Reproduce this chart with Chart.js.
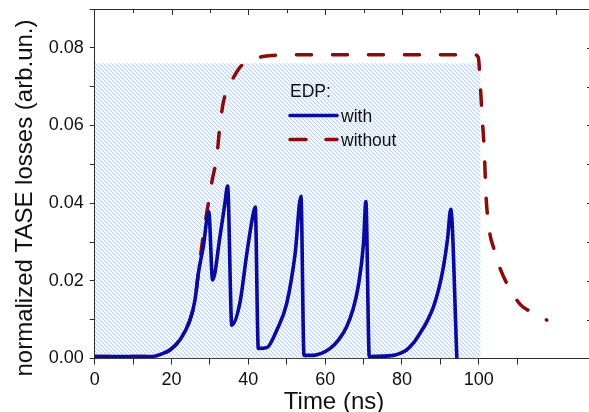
<!DOCTYPE html>
<html>
<head>
<meta charset="utf-8">
<script src="https://cdn.jsdelivr.net/npm/chart.js@4.4.1/dist/chart.umd.min.js"></script>
<style>
  html, body { margin: 0; padding: 0; background: #fff; }
  #wrap { width: 589px; height: 412px; position: relative; }
</style>
</head>
<body>
<div id="wrap"><canvas id="chart"></canvas></div>
<script>
// time (ns) and normalized TASE losses
const withTime = [0, 15, 17.5, 19.6, 22.2, 24.8, 26.1, 27, 28.3, 29.7, 30.7, 32.6, 33.9, 34.6, 35.7,
  37.8, 39.6, 41.3, 41.8, 42.6, 44.8, 47.4, 50, 52.2, 53.7, 54.5, 57, 59, 61.3, 63.5, 65.6, 67.2,
  68.6, 70, 70.6, 71.5, 77.8, 79.5, 81.2, 83, 84.7, 86.5, 88.2, 89.6, 90.8, 91.9, 92.7, 94.3];
const withLoss = [0.0005, 0.0005, 0.0012, 0.0022, 0.0048, 0.0099, 0.015, 0.022, 0.029, 0.0378, 0.0202, 0.0313, 0.040, 0.0444, 0.0086,
  0.0143, 0.027, 0.0374, 0.039, 0.0026, 0.0028, 0.0073, 0.0142, 0.0271, 0.0418, 0.0008, 0.0008, 0.0013, 0.0026, 0.0048, 0.0082, 0.0125,
  0.0185, 0.0297, 0.0404, 0.0005, 0.0008, 0.0013, 0.0022, 0.004, 0.0065, 0.0095, 0.0133, 0.018, 0.0236, 0.031, 0.0384, 0.0];

const withoutTime = [0, 15, 17.5, 19.6, 22.2, 24.8, 26.1, 27, 28.3, 29.6, 30.6, 31.8, 32.5, 33.5, 35.2,
  36.5, 38, 40, 42.5, 46, 50, 99, 99.9, 100.3, 100.9, 101.5, 101.8, 102.3, 102.9, 104.2, 105.7, 108,
  110.9, 113.5, 116.4, 117.7];
const withoutLoss = [0.0005, 0.0005, 0.0012, 0.0022, 0.0048, 0.0099, 0.015, 0.022, 0.032, 0.040, 0.046, 0.052, 0.059, 0.066, 0.0705,
  0.073, 0.0752, 0.0765, 0.0775, 0.078, 0.0782, 0.0782, 0.0775, 0.072, 0.062, 0.052, 0.0435, 0.0365, 0.032, 0.0275, 0.0228, 0.0181,
  0.0138, 0.0121, 0.0108, 0.0099];

// shaded pump window
const shadeTime = [0, 100.5];
const shadeLevel = [0.076, 0.076];

const xMin = 0, xMax = 128.7, yMin = 0, yMax = 0.09;
const legendTitle = "EDP:";
const seriesNames = ["with", "without"];
const xTitle = "Time (ns)";
const yTitle = "normalized TASE losses (arb.un.)";

const blue = "#0a0a9e";
const red = "#8c0a0a";
const axisColor = "#2a2a2a";
const font = "Liberation Sans, Arial, sans-serif";

function toPoints(xs, ys) {
  return xs.map((x, i) => ({ x: x, y: ys[i] }));
}

function hatch() {
  const s = 4;
  const c = document.createElement("canvas");
  c.width = s; c.height = s;
  const g = c.getContext("2d");
  g.fillStyle = "#ffffff";
  g.fillRect(0, 0, s, s);
  g.strokeStyle = "#bdd2f2";
  g.lineWidth = 1.2;
  for (let k = -s; k <= s; k += s) {
    g.beginPath();
    g.moveTo(k, 0);
    g.lineTo(k + s, s);
    g.stroke();
  }
  return g.createPattern(c, "repeat");
}

// frame on top, mirror ticks, axis titles and legend
const extras = {
  id: "extras",
  afterDraw(chart) {
    const ctx = chart.ctx;
    const a = chart.chartArea;
    const xs = chart.scales.x, ys = chart.scales.y;
    ctx.save();
    ctx.strokeStyle = axisColor;
    ctx.lineWidth = 1;
    ctx.beginPath();
    ctx.moveTo(a.left, a.top + 0.5);
    ctx.lineTo(a.right, a.top + 0.5);
    for (let t = 10; t < xMax; t += 10) {
      const px = Math.round(xs.getPixelForValue(t)) + 0.5;
      ctx.moveTo(px, a.top);
      ctx.lineTo(px, a.top + (t % 20 === 0 ? 6 : 4));
    }
    for (let v = 0.01; v < yMax; v += 0.01) {
      const py = Math.round(ys.getPixelForValue(v)) + 0.5;
      ctx.moveTo(a.right - 2, py);
      ctx.lineTo(a.right, py);
    }
    ctx.stroke();

    // axis titles
    ctx.fillStyle = "#111";
    ctx.font = "24px " + font;
    ctx.textAlign = "center";
    ctx.textBaseline = "alphabetic";
    ctx.fillText(xTitle, 334, 409);
    ctx.translate(32, 198);
    ctx.rotate(-Math.PI / 2);
    ctx.fillText(yTitle, 0, 0);
    ctx.restore();

    // legend
    ctx.save();
    ctx.font = "17.5px " + font;
    ctx.fillStyle = "#111";
    ctx.textAlign = "left";
    ctx.textBaseline = "alphabetic";
    ctx.fillText(legendTitle, 290, 97);
    ctx.lineWidth = 3.5;
    ctx.lineCap = "round";
    ctx.strokeStyle = blue;
    ctx.beginPath();
    ctx.moveTo(290, 115.5);
    ctx.lineTo(337, 115.5);
    ctx.stroke();
    ctx.strokeStyle = red;
    ctx.beginPath();
    ctx.moveTo(290, 139.5);
    ctx.lineTo(306, 139.5);
    ctx.moveTo(326, 139.5);
    ctx.lineTo(337, 139.5);
    ctx.stroke();
    ctx.fillText(seriesNames[0], 341, 122);
    ctx.fillText(seriesNames[1], 341, 146);
    ctx.restore();
  }
};

const ctx = document.getElementById("chart");
new Chart(ctx, {
  type: "line",
  data: {
    datasets: [
      {
        label: "shade",
        data: toPoints(shadeTime, shadeLevel),
        borderWidth: 0,
        pointRadius: 0,
        fill: "origin",
        backgroundColor: hatch(),
        order: 3
      },
      {
        label: seriesNames[1],
        data: toPoints(withoutTime, withoutLoss),
        borderColor: red,
        borderWidth: 3.5,
        borderDash: [15, 21],
        borderCapStyle: "round",
        borderJoinStyle: "round",
        pointRadius: 0,
        cubicInterpolationMode: "monotone",
        fill: false,
        order: 2
      },
      {
        label: seriesNames[0],
        data: toPoints(withTime, withLoss),
        borderColor: blue,
        borderWidth: 3.6,
        borderJoinStyle: "round",
        borderCapStyle: "round",
        pointRadius: 0,
        cubicInterpolationMode: "monotone",
        fill: false,
        order: 1
      }
    ]
  },
  options: {
    responsive: true,
    maintainAspectRatio: false,
    animation: false,
    layout: { padding: { top: 9, right: 0, left: 0, bottom: 0 } },
    plugins: { legend: { display: false }, tooltip: { enabled: false } },
    scales: {
      x: {
        type: "linear",
        min: xMin,
        max: xMax,
        afterBuildTicks(s) { s.ticks = s.ticks.filter(t => Math.abs(t.value % 10) < 1e-6); },
        afterFit(s) { s.height = 53.5; s.paddingLeft = 0; s.paddingRight = 0; },
        ticks: {
          stepSize: 10,
          padding: 5,
          color: "#111",
          font: { family: font, size: 18 },
          maxRotation: 0,
          autoSkip: false,
          callback: v => (Math.round(v) % 20 === 0 ? String(Math.round(v)) : "")
        },
        grid: { drawOnChartArea: false, drawTicks: true, tickLength: 6, color: axisColor },
        border: { display: true, color: axisColor, width: 1 }
      },
      y: {
        type: "linear",
        min: yMin,
        max: yMax,
        afterFit(s) { s.width = 94.7; s.paddingTop = 0; s.paddingBottom = 0; },
        ticks: {
          stepSize: 0.01,
          padding: 6,
          color: "#111",
          font: { family: font, size: 18 },
          autoSkip: false,
          callback: v => {
            const k = Math.round(v * 100);
            return (k % 2 === 0 && k < 9) ? (k / 100).toFixed(2) : "";
          }
        },
        grid: { drawOnChartArea: false, drawTicks: true, tickLength: 5, color: axisColor },
        border: { display: true, color: axisColor, width: 1 }
      }
    }
  },
  plugins: [extras]
});
</script>
</body>
</html>
